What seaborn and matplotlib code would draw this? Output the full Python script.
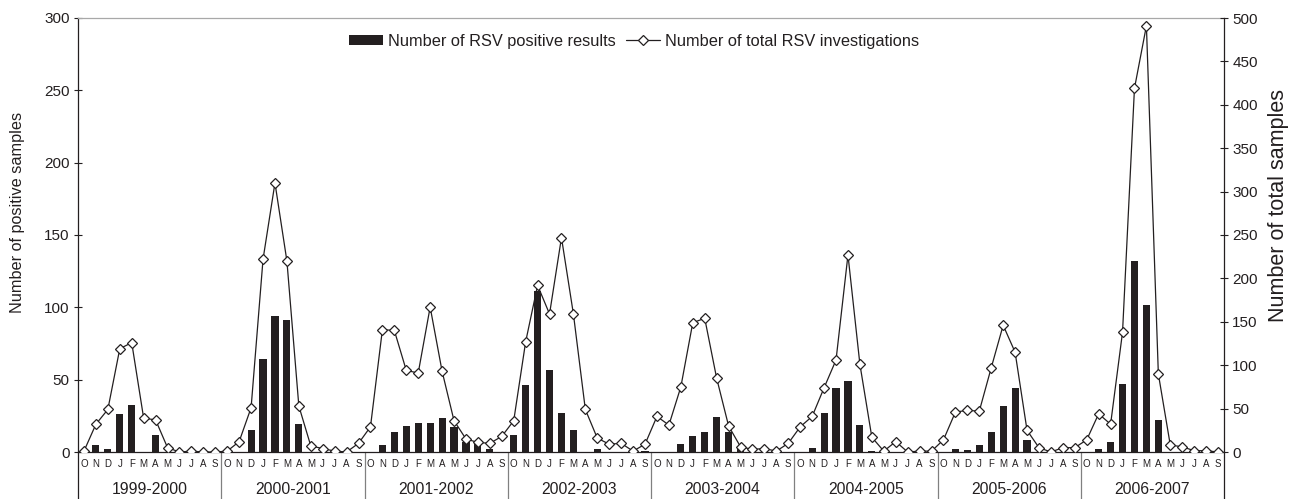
import numpy as np
import pandas as pd
import matplotlib
matplotlib.use("Agg")
import matplotlib.pyplot as plt
import seaborn as sns
from matplotlib.patches import Patch
from matplotlib.lines import Line2D

# ---------------- data ----------------
seasons = ["1999-2000", "2000-2001", "2001-2002", "2002-2003",
           "2003-2004", "2004-2005", "2005-2006", "2006-2007"]
months = ["O", "N", "D", "J", "F", "M", "A", "M", "J", "J", "A", "S"]

positive_1999 = [0, 5, 2, 26.5, 32.5, 0, 11.5, 0, 0, 0, 0, 0]
positive_2000 = [0, 0, 15, 64.5, 94, 91, 19.5, 0, 0, 0, 0, 0]
positive_2001 = [0, 5, 14, 18, 20, 20, 23.5, 17, 7, 6, 2, 0]
positive_2002 = [12, 46, 111, 57, 27, 15, 0, 2, 0, 0, 0, 1]
positive_2003 = [0, 0, 5.5, 11, 14, 24, 14, 2.5, 0, 0, 0, 0]
positive_2004 = [0, 3, 27, 44.5, 49, 18.5, 1, 0, 0, 0, 0, 0]
positive_2005 = [0, 2, 1.5, 5, 14, 31.5, 44, 8, 0, 0, 0, 0]
positive_2006 = [0, 2, 7, 47, 132, 101.5, 22, 0, 0, 0, 0, 0]

total_1999 = [1, 32, 49, 119, 126, 39, 37, 5, 0, 1, 0, 0]
total_2000 = [1, 12, 51, 222, 310, 220, 53, 7, 4, 1, 0, 10]
total_2001 = [29, 141, 140, 94, 91, 167, 93, 36, 15, 11, 10, 18]
total_2002 = [36, 127, 192, 159, 247, 159, 49, 16, 9, 10, 1, 9]
total_2003 = [41, 31, 75, 149, 154, 85, 30, 6, 3, 4, 1, 10]
total_2004 = [29, 41, 74, 106, 227, 101, 17, 1, 12, 0, 1, 1]
total_2005 = [14, 46, 48, 47, 97, 146, 115, 25, 5, 0, 5, 5]
total_2006 = [14, 44, 32, 138, 419, 491, 90, 8, 6, 1.5, 1.5, 0]

positive = (positive_1999 + positive_2000 + positive_2001 + positive_2002 +
            positive_2003 + positive_2004 + positive_2005 + positive_2006)
total = (total_1999 + total_2000 + total_2001 + total_2002 +
         total_2003 + total_2004 + total_2005 + total_2006)

left_ticks = [0, 50, 100, 150, 200, 250, 300]
right_ticks = [0, 50, 100, 150, 200, 250, 300, 350, 400, 450, 500]

# ---------------- style ----------------
sns.set_theme(style="white")
plt.rcParams["font.family"] = ["Liberation Sans", "DejaVu Sans"]
INK = "#231f20"
plt.rcParams["text.color"] = INK
plt.rcParams["axes.labelcolor"] = INK
plt.rcParams["xtick.color"] = INK
plt.rcParams["ytick.color"] = INK

W, H = 1291, 499
fig = plt.figure(figsize=(W / 100, H / 100), dpi=100)
L, R, T, B = 78, 1224, 18, 452
ax = fig.add_axes([L / W, 1 - B / H, (R - L) / W, (B - T) / H])

n = len(positive)
df = pd.DataFrame({"idx": np.arange(n), "positive": positive, "total": total})

sns.barplot(data=df, x="idx", y="positive", native_scale=True, width=0.6,
            color=INK, saturation=1, linewidth=0, ax=ax, zorder=2)

ax2 = ax.twinx()
sns.lineplot(data=df, x="idx", y="total", ax=ax2, color=INK, linewidth=0.9,
             marker="D", markersize=4.6, markerfacecolor="white",
             markeredgecolor=INK, markeredgewidth=0.9, zorder=3)

ax.set_xlim(-0.5, n - 0.5)
ax.set_ylim(0, 300)
ax2.set_ylim(0, 500)
ax.set_yticks(left_ticks)
ax2.set_yticks(right_ticks)
ax.set_xticks(np.arange(n))
ax.set_xticklabels(months * len(seasons), fontsize=7)
ax.tick_params(axis="x", length=0, pad=5)
ax.tick_params(axis="y", direction="inout", length=6, width=0.8, labelsize=11, pad=3)
ax2.tick_params(axis="y", direction="inout", length=6, width=0.8, labelsize=11, pad=3)
ax.set_xlabel("")
ax2.set_xlabel("")

# spines
for s in ["left", "right", "top", "bottom"]:
    ax.spines[s].set_linewidth(0.9)
    ax2.spines[s].set_linewidth(0.9)
ax.spines["left"].set_color(INK)
ax.spines["bottom"].set_color(INK)
ax.spines["top"].set_color("#a8a8a8")
ax.spines["right"].set_visible(False)
ax2.spines["left"].set_visible(False)
ax2.spines["bottom"].set_visible(False)
ax2.spines["top"].set_visible(False)
ax2.spines["right"].set_color(INK)

# axis labels
ax.set_ylabel("Number of positive samples", fontsize=11.7)
ax.yaxis.set_label_coords(-0.046, 0.553)
ax2.set_ylabel("Number of total samples", fontsize=15.5)
ax2.yaxis.set_label_coords(1.0385, 0.567)

# season separators and frame extension below axis
ext = -(H - B) / (B - T)
for xa in [0, 1]:
    ax.plot([xa, xa], [0, ext], transform=ax.transAxes, clip_on=False,
            color=INK, lw=0.9)
for k in range(1, len(seasons)):
    xb = 12 * k - 0.5
    ax.plot([xb, xb], [0, ext], transform=ax.get_xaxis_transform(),
            clip_on=False, color="#808080", lw=0.9)
for k, s in enumerate(seasons):
    ax.text(12 * k + 5.5, -(490 - B) / (B - T), s, transform=ax.get_xaxis_transform(),
            ha="center", va="center", fontsize=11.3)

# legend
handles = [Patch(facecolor=INK, edgecolor="none"),
           Line2D([], [], color=INK, lw=0.9, marker="D", markersize=4.6,
                  markerfacecolor="white", markeredgecolor=INK, markeredgewidth=0.9)]
labels = ["Number of RSV positive results", "Number of total RSV investigations"]
ax2.legend(handles, labels, loc="center", bbox_to_anchor=(0.485, 0.947), ncol=2,
           frameon=False, fontsize=11.8, handlelength=2.1, handleheight=0.6,
           handletextpad=0.3, columnspacing=0.6, borderaxespad=0)

fig.savefig("out.png", dpi=100)
